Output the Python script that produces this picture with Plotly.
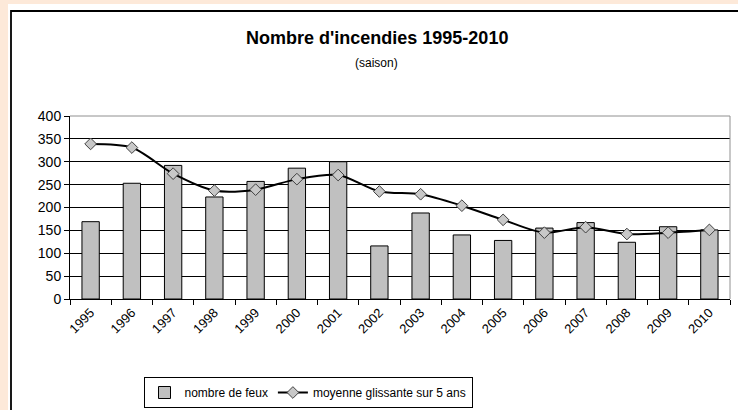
import plotly.graph_objects as go

years = ["1995", "1996", "1997", "1998", "1999", "2000", "2001", "2002",
         "2003", "2004", "2005", "2006", "2007", "2008", "2009", "2010"]
nombre_feux = [169, 253, 292, 223, 257, 286, 300, 116, 188, 140, 128, 155, 167, 124, 158, 151]
moyenne_5ans = [339, 331, 274, 237, 239, 262, 271, 235, 229, 204, 173, 145, 157, 142, 145, 151]
y_ticks = [0, 50, 100, 150, 200, 250, 300, 350, 400]

W, H = 738, 410
L, R, T, B = 70, 8, 116, 111
pw, ph = W - L - R, H - T - B


def px(x):
    return (x - L) / pw


def py(y):
    return (H - B - y) / ph


FONT = "Liberation Sans, Arial, sans-serif"

fig = go.Figure()
fig.add_trace(go.Bar(
    x=years, y=nombre_feux, name="nombre de feux",
    marker=dict(color="#c0c0c0", line=dict(color="black", width=1)),
    width=0.42,
))
fig.add_trace(go.Scatter(
    x=years, y=moyenne_5ans, name="moyenne glissante sur 5 ans",
    mode="lines+markers",
    line=dict(color="black", width=2, shape="spline", smoothing=0.8),
    marker=dict(symbol="diamond", size=9, color="#c8c8c8",
                line=dict(color="#404040", width=1)),
))

shapes = [
    dict(type="rect", xref="paper", yref="paper", layer="below",
         x0=px(8), x1=px(760), y0=py(440), y1=py(4),
         fillcolor="white", line=dict(width=0)),
    dict(type="rect", xref="paper", yref="paper", layer="below",
         x0=px(11), x1=px(760), y0=py(440), y1=py(11),
         fillcolor="white", line=dict(color="black", width=1.8)),
    dict(type="line", xref="paper", yref="paper", layer="above",
         x0=0, x1=1, y0=1, y1=1, line=dict(color="#909090", width=1)),
    dict(type="line", xref="paper", yref="paper", layer="above",
         x0=1, x1=1, y0=0, y1=1, line=dict(color="#909090", width=1)),
]

annotations = [
    dict(text="<b>Nombre d'incendies 1995-2010</b>", xref="paper", yref="paper",
         x=px(377), y=py(38), xanchor="center", yanchor="middle", showarrow=False,
         font=dict(family=FONT, size=18, color="black")),
    dict(text="(saison)", xref="paper", yref="paper",
         x=px(376), y=py(63), xanchor="center", yanchor="middle", showarrow=False,
         font=dict(family=FONT, size=12, color="black")),
]

fig.update_layout(
    width=W, height=H,
    margin=dict(l=L, r=R, t=T, b=B, autoexpand=False),
    paper_bgcolor="#fde9d9",
    plot_bgcolor="rgba(0,0,0,0)",
    font=dict(family=FONT, size=13, color="black"),
    shapes=shapes,
    annotations=annotations,
    bargap=0.58,
    legend=dict(orientation="h", x=px(308), y=py(408), xanchor="center", yanchor="bottom",
                bordercolor="black", borderwidth=1, bgcolor="white",
                font=dict(family=FONT, size=12, color="black"),
                itemwidth=30, tracegroupgap=0),
    xaxis=dict(type="category", showline=True, linecolor="black", linewidth=1,
               ticks="outside", tickson="boundaries", ticklen=5, tickcolor="black",
               tickangle=-45, tickfont=dict(family=FONT, size=13),
               showgrid=False, range=[-0.5, 15.5], automargin=False),
    yaxis=dict(range=[0, 400], tickvals=y_ticks, showline=True, linecolor="black",
               linewidth=1, ticks="outside", ticklen=5, tickcolor="black",
               showgrid=True, gridcolor="black", gridwidth=1, automargin=False,
               zeroline=False, tickfont=dict(family=FONT, size=14)),
    showlegend=True,
)

fig.write_html(
    "out.html",
    config={"displayModeBar": False},
    post_script="document.body.style.margin='0';document.body.style.background='#fde9d9';",
)
